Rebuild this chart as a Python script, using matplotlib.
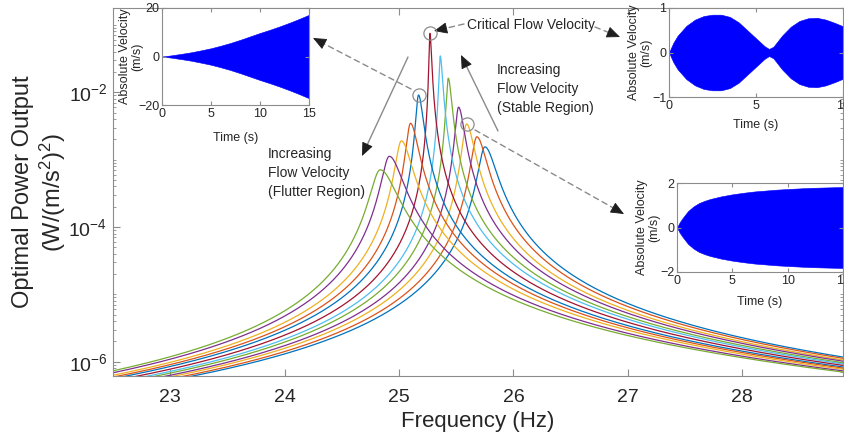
import numpy as np
import matplotlib
matplotlib.use("Agg")
import matplotlib.pyplot as plt
from matplotlib.ticker import FixedLocator, LogLocator, NullFormatter, LogFormatterSciNotation

plt.rcParams['font.family'] = ['Liberation Sans', 'DejaVu Sans']
plt.rcParams['mathtext.fontset'] = 'custom'
plt.rcParams['mathtext.rm'] = 'Liberation Sans'
plt.rcParams['mathtext.it'] = 'Liberation Sans:italic'
plt.rcParams['mathtext.bf'] = 'Liberation Sans:bold'

# ---- frequency response curves, one per flow velocity (increasing speed) ----
peak_freq = [25.75, 25.68, 25.59, 25.52, 25.43, 25.36, 25.27,
             25.17, 25.10, 25.02, 24.915, 24.835]
peak_log_power = [-2.81, -2.66, -2.47, -2.22, -1.79, -1.46, -1.124,
                  -2.04, -2.46, -2.72, -2.95, -3.15]
tail_left = 4.0e-6     # power * (f - f0)^2 far below resonance
tail_right = 1.15e-5   # power * (f - f0)^2 far above resonance
critical_idx = 6
circled = [6, 7, 2]

x_ticks = [23, 24, 25, 26, 27, 28]
y_ticks = [1e-6, 1e-4, 1e-2]

# ---- time histories (velocity envelope) ----
flutter_t = [0, 1, 2, 3, 4, 5, 6, 7, 8, 9, 10, 11, 12, 13, 14, 15]
flutter_env = [0, 0.5, 1.1, 1.75, 2.55, 3.4, 4.45, 5.6, 6.9, 8.3,
               9.7, 11.0, 12.4, 13.9, 15.5, 17.2]

critical_t = [0, 0.25, 0.5, 1.0, 1.5, 2.0, 2.5, 3.0, 3.5, 4.0, 4.5, 5.0,
              5.5, 5.75, 6.0, 6.5, 7.0, 7.5, 8.0, 8.5, 9.0, 9.5, 10.0]
critical_env = [0, 0.22, 0.38, 0.6, 0.74, 0.82, 0.85, 0.85, 0.8, 0.68,
                0.5, 0.32, 0.14, 0.08, 0.13, 0.38, 0.58, 0.71, 0.77,
                0.78, 0.74, 0.67, 0.59]

stable_t = [0, 0.25, 0.5, 1.0, 1.5, 2.0, 2.5, 3.0, 4.0, 5.0, 6.0, 7.0,
            8.0, 9.0, 10.0, 12.0, 15.0]
stable_env = [0, 0.24, 0.42, 0.74, 0.95, 1.1, 1.2, 1.28, 1.4, 1.49, 1.56,
              1.62, 1.66, 1.7, 1.73, 1.78, 1.82]

colors = ['#0072BD', '#D95319', '#EDB120', '#7E2F8E',
          '#77AC30', '#4DBEEE', '#A2142F']

W, H = 845, 446
TXT = '#262626'
SPINE = '#8c8c8c'


def fx(px):
    return px / W


def fy(py):
    return 1 - py / H


def rect(left, top, right, bottom):
    return [fx(left), fy(bottom), (right - left) / W, (bottom - top) / H]


fig = plt.figure(figsize=(W / 100, H / 100), dpi=100)

# ---------------- main axes ----------------
ax = fig.add_axes(rect(113, 8, 843, 376))
freq = np.union1d(np.linspace(22.5, 28.9, 20000), peak_freq)
for i, (f0, lp) in enumerate(zip(peak_freq, peak_log_power)):
    pk = 10.0 ** lp
    g = np.where(freq < f0, np.sqrt(tail_left / pk), np.sqrt(tail_right / pk))
    power = pk / (1 + ((freq - f0) / g) ** 2)
    ax.plot(freq, power, color=colors[i % len(colors)], lw=0.9)

ax.set_yscale('log')
ax.set_xlim(22.5, 28.88)
ax.set_ylim(10 ** -6.212, 10 ** -0.748)
ax.xaxis.set_major_locator(FixedLocator(x_ticks))
ax.yaxis.set_major_locator(FixedLocator(y_ticks))
ax.yaxis.set_major_formatter(LogFormatterSciNotation())
ax.yaxis.set_minor_locator(LogLocator(base=10, subs=np.arange(1, 10), numticks=100))
ax.yaxis.set_minor_formatter(NullFormatter())
ax.tick_params(which='both', direction='in', top=True, right=True,
               color=SPINE, labelcolor=TXT)
ax.tick_params(axis='x', which='major', length=5, labelsize=14, pad=9)
ax.tick_params(axis='y', which='major', length=5, labelsize=14, pad=4)
ax.tick_params(axis='y', which='minor', length=2.5)
for s in ax.spines.values():
    s.set_color(SPINE)
    s.set_linewidth(0.8)
ax.set_xlabel('Frequency (Hz)', fontsize=16, color=TXT, labelpad=4)
fig.text(fx(40), fy(192), 'Optimal Power Output\n(W/(m/s$^2$)$^2$)',
         rotation=90, ha='center', va='center', multialignment='center',
         fontsize=17, color=TXT, linespacing=1.15)

# circles on selected peaks
for i in circled:
    ax.plot(peak_freq[i], 10 ** peak_log_power[i], 'o', ms=9.5, mfc='none',
            mec='#8c8c8c', mew=0.9, zorder=5)

# ---------------- annotations ----------------
GRAY = '#8a8a8a'
HEAD = '#1e1e1e'


def arrow(x0, y0, x1, y1, dashed):
    ax.annotate('', xy=(fx(x1), fy(y1)), xytext=(fx(x0), fy(y0)),
                xycoords='figure fraction', textcoords='figure fraction',
                arrowprops=dict(arrowstyle='-', color=GRAY, lw=1.0,
                                linestyle=(0, (4, 3)) if dashed else '-',
                                shrinkA=0, shrinkB=3))
    d = np.hypot(x1 - x0, y1 - y0)
    hx = x1 - (x1 - x0) / d * 8
    hy = y1 - (y1 - y0) / d * 8
    ax.annotate('', xy=(fx(x1), fy(y1)), xytext=(fx(hx), fy(hy)),
                xycoords='figure fraction', textcoords='figure fraction',
                arrowprops=dict(arrowstyle='-|>,head_length=0.7,head_width=0.3',
                                color=HEAD, lw=0.6, shrinkA=0, shrinkB=0,
                                mutation_scale=12))


fig.text(fx(467), fy(25), 'Critical Flow Velocity', fontsize=10, color=TXT,
         ha='left', va='center')
arrow(464, 24, 434, 31, True)
arrow(595, 27, 620, 37, True)
arrow(411, 89, 313, 38, True)
arrow(475, 130, 624, 214, True)
arrow(408, 57, 362, 156, False)
arrow(498, 131, 461, 55, False)

fig.text(fx(268), fy(147), 'Increasing\nFlow Velocity\n(Flutter Region)',
         fontsize=10, color=TXT, ha='left', va='top', linespacing=1.45)
fig.text(fx(497), fy(63), 'Increasing\nFlow Velocity\n(Stable Region)',
         fontsize=10, color=TXT, ha='left', va='top', linespacing=1.45)


# ---------------- inset time histories ----------------
def inset(box, t, env, xlim, ylim, xticks, yticks, ylab_x, xlab_y):
    left, top, right, bottom = box
    a = fig.add_axes(rect(left, top, right, bottom), zorder=3)
    a.set_facecolor('white')
    t = np.asarray(t, dtype=float)
    e = np.asarray(env, dtype=float)
    a.fill_between(t, -e, e, color='#0000ff', lw=0.4)
    a.set_xlim(*xlim)
    a.set_ylim(*ylim)
    a.set_xticks(xticks)
    a.set_yticks(yticks)
    a.tick_params(direction='in', top=True, right=True, length=3,
                  labelsize=9, color=SPINE, labelcolor=TXT, pad=2)
    for s in a.spines.values():
        s.set_color(SPINE)
        s.set_linewidth(0.8)
    fig.text(fx(ylab_x), fy((top + bottom) / 2), 'Absolute Velocity\n(m/s)',
             rotation=90, ha='center', va='center', multialignment='center',
             fontsize=9, color=TXT, linespacing=1.1)
    fig.text(fx((left + right) / 2), fy(xlab_y), 'Time (s)', ha='center',
             va='center', fontsize=9, color=TXT)
    return a


inset((162, 8, 309, 105), flutter_t, flutter_env, (0, 15), (-20, 20),
      [0, 5, 10, 15], [-20, 0, 20], 131, 138)
inset((669, 8, 843, 97), critical_t, critical_env, (0, 10), (-1, 1),
      [0, 5, 10], [-1, 0, 1], 640, 125)
inset((677, 183, 843, 272), stable_t, stable_env, (0, 15), (-2, 2),
      [0, 5, 10, 15], [-2, 0, 2], 648, 302)

fig.savefig('out.png', dpi=100)
